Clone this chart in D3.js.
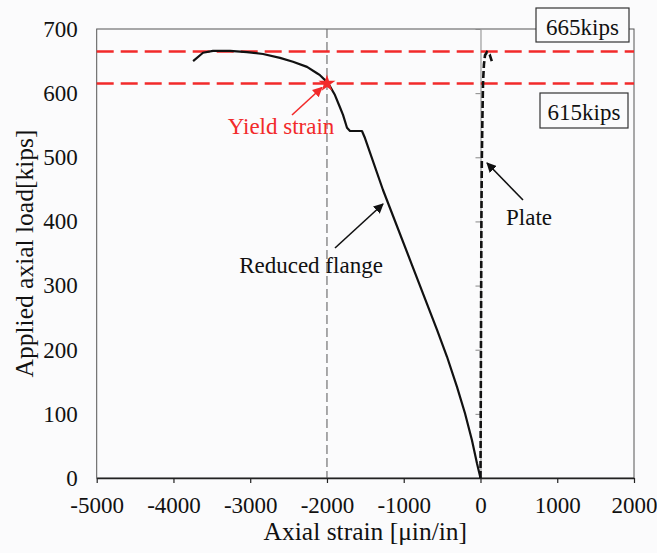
<!DOCTYPE html>
<html><head><meta charset="utf-8">
<script src="https://cdn.jsdelivr.net/npm/d3@7"></script>
<style>
html,body{margin:0;padding:0;background:#fbfbfc;}
svg{display:block;font-family:"Liberation Serif","Times New Roman",serif;}
</style></head>
<body>
<svg id="chart" width="657" height="553"></svg>
<script>
// ---- data ----
const flangeStrain = [0, -46, -111, -202, -306, -436, -566, -892, -1270, -1505, -1544, -1700, -1739, -1791, -1831, -1896, -1987, -2091, -2130, -2260, -2443, -2612, -2833, -3042, -3263, -3485, -3615, -3744];
const flangeLoad   = [0, 23, 59, 101, 142, 189, 231, 332, 449, 530, 541, 541, 546, 566, 578, 597, 616, 628, 631, 641, 649, 655, 661, 664, 666, 666, 663, 650];
const plateStrain = [0, 3, 6, 9, 12, 18, 25, 33, 45, 59, 85, 120, 150];
const plateLoad   = [0, 100, 200, 300, 400, 500, 560, 616, 645, 659, 664, 660, 649];
const xTicks = [-5000, -4000, -3000, -2000, -1000, 0, 1000, 2000];
const yTicks = [0, 100, 200, 300, 400, 500, 600, 700];
const refLoads = [665, 615];
const refLabels = ["665kips", "615kips"];
const yieldPoint = [-2000, 615];

const svg = d3.select("#chart");
const x = d3.scaleLinear().domain([-5000, 2000]).range([96.7, 634]);
const y = d3.scaleLinear().domain([0, 700]).range([478, 29]);

// plot border
svg.append("rect").attr("x", x(-5000)).attr("y", y(700))
  .attr("width", x(2000) - x(-5000)).attr("height", y(0) - y(700))
  .attr("fill", "none").attr("stroke", "#555").attr("stroke-width", 1);

// gray dashed vertical at yield strain
svg.append("line").attr("x1", x(yieldPoint[0])).attr("x2", x(yieldPoint[0]))
  .attr("y1", y(700)).attr("y2", y(0))
  .attr("stroke", "#666").attr("stroke-width", 1.1).attr("stroke-dasharray", "9,4");

// vertical axis at x=0 (ticks, no labels)
const yAxis0 = svg.append("g").attr("transform", `translate(${x(0)},0)`)
  .call(d3.axisLeft(y).tickValues(yTicks).tickSize(5).tickSizeOuter(0).tickFormat(""));
yAxis0.selectAll("path,line").attr("stroke", "#888").attr("stroke-width", 1);

// y tick labels at left
const yLab = svg.append("g").attr("transform", `translate(${x(-5000) - 19},0)`)
  .call(d3.axisLeft(y).tickValues(yTicks).tickSize(0).tickFormat(d => String(d)));
yLab.select(".domain").remove();
yLab.selectAll("text").attr("font-family", "Liberation Serif").attr("font-size", 23)
  .attr("fill", "#111").attr("x", 0).attr("dy", "0.32em");

// x axis
const xAx = svg.append("g").attr("transform", `translate(0,${y(0)})`)
  .call(d3.axisBottom(x).tickValues(xTicks).tickSize(5).tickSizeOuter(0).tickFormat(d => String(d)));
xAx.select(".domain").attr("stroke", "#222").attr("stroke-width", 1.5);
xAx.selectAll(".tick line").attr("stroke", "#222").attr("stroke-width", 1.2);
xAx.selectAll("text").attr("font-family", "Liberation Serif").attr("font-size", 23)
  .attr("fill", "#111").attr("y", 19).attr("dy", "0.71em");

// red dashed reference lines
svg.selectAll(".ref").data(refLoads).join("line").attr("class", "ref")
  .attr("x1", x(-5000)).attr("x2", x(2000))
  .attr("y1", d => y(d)).attr("y2", d => y(d))
  .attr("stroke", "#f22a2a").attr("stroke-width", 2.6).attr("stroke-dasharray", "17,7");

// lines
const line = d3.line().x(d => x(d[0])).y(d => y(d[1]));
svg.append("path").datum(flangeStrain.map((v, i) => [v, flangeLoad[i]]))
  .attr("d", line).attr("fill", "none").attr("stroke", "#111").attr("stroke-width", 2.2)
  .attr("stroke-linejoin", "round");
svg.append("path").datum(plateStrain.map((v, i) => [v, plateLoad[i]]))
  .attr("d", line).attr("fill", "none").attr("stroke", "#111").attr("stroke-width", 2.6)
  .attr("stroke-dasharray", "7,3");

// yield marker
svg.append("path").attr("d", d3.symbol(d3.symbolStar, 90)())
  .attr("transform", `translate(${x(yieldPoint[0])},${y(yieldPoint[1])})`)
  .attr("fill", "#f22a2a");

// arrow markers
const defs = svg.append("defs");
function mk(id, col) {
  defs.append("marker").attr("id", id).attr("viewBox", "0 0 10 10").attr("refX", 9).attr("refY", 5)
    .attr("markerWidth", 10).attr("markerHeight", 10).attr("markerUnits", "userSpaceOnUse")
    .attr("orient", "auto").append("path").attr("d", "M0,0 L10,5 L0,10 z").attr("fill", col);
}
mk("ab", "#111"); mk("ar", "#f22a2a");

function arrow(x1, y1, x2, y2, col, id) {
  svg.append("line").attr("x1", x1).attr("y1", y1).attr("x2", x2).attr("y2", y2)
    .attr("stroke", col).attr("stroke-width", 1.6).attr("marker-end", `url(#${id})`);
}
arrow(292, 115, x(yieldPoint[0]) - 5, y(yieldPoint[1]) + 4, "#f22a2a", "ar");
arrow(335, 248, 383, 204, "#111", "ab");
arrow(523, 200, 487, 163, "#111", "ab");

// annotation texts
function txt(t, xx, yy, col, anchor) {
  svg.append("text").attr("x", xx).attr("y", yy).attr("fill", col)
    .attr("font-family", "Liberation Serif").attr("font-size", 23)
    .attr("text-anchor", anchor || "middle").text(t);
}
txt("Yield strain", 281, 134, "#f22a2a");
txt("Reduced flange", 311, 273, "#111");
txt("Plate", 529, 225, "#111");

// kips boxes
const boxes = [{x0: 536, y0: 8, w: 93, h: 34, by: 35}, {x0: 540, y0: 93, w: 88, h: 35, by: 120}];
boxes.forEach((b, i) => {
  svg.append("rect").attr("x", b.x0).attr("y", b.y0).attr("width", b.w).attr("height", b.h)
    .attr("fill", "#fbfbfc").attr("stroke", "#333").attr("stroke-width", 1.2);
  txt(refLabels[i], b.x0 + b.w / 2, b.by, "#111");
});

// axis titles
svg.append("text").attr("x", (x(-5000) + x(2000)) / 2).attr("y", 540)
  .attr("text-anchor", "middle").attr("font-family", "Liberation Serif").attr("font-size", 25.5)
  .attr("fill", "#111").text("Axial strain [μin/in]");
svg.append("text").attr("transform", `translate(33,${(y(0) + y(700)) / 2}) rotate(-90)`)
  .attr("text-anchor", "middle").attr("font-family", "Liberation Serif").attr("font-size", 25.5)
  .attr("fill", "#111").text("Applied axial load[kips]");
</script>
</body></html>
